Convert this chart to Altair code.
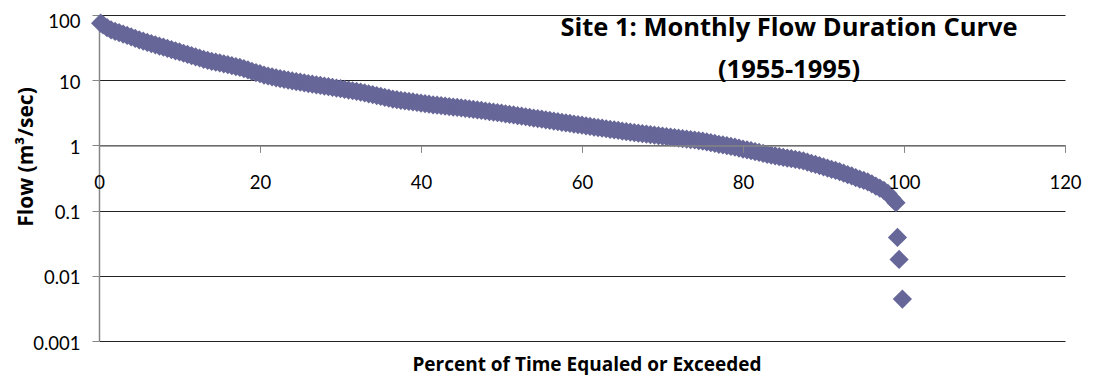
import altair as alt
import pandas as pd

# Exceedance percent (x) and monthly flow in m3/sec (y)
percent = [
    0.2, 0.5, 1.0, 1.5, 2.0, 2.5, 3.0, 3.5, 4.0, 4.5,
    5.0, 5.5, 6.0, 6.5, 7.0, 7.5, 8.0, 8.5, 9.0, 9.5,
    10.0, 10.5, 11.0, 11.5, 12.0, 12.5, 13.0, 13.5, 14.0, 14.5,
    15.0, 15.5, 16.0, 16.5, 17.0, 17.5, 18.0, 18.5, 19.0, 19.5,
    20.0, 20.5, 21.0, 21.5, 22.0, 22.5, 23.0, 23.5, 24.0, 24.5,
    25.0, 25.5, 26.0, 26.5, 27.0, 27.5, 28.0, 28.5, 29.0, 29.5,
    30.0, 30.5, 31.0, 31.5, 32.0, 32.5, 33.0, 33.5, 34.0, 34.5,
    35.0, 35.5, 36.0, 36.5, 37.0, 37.5, 38.0, 38.5, 39.0, 39.5,
    40.0, 40.5, 41.0, 41.5, 42.0, 42.5, 43.0, 43.5, 44.0, 44.5,
    45.0, 45.5, 46.0, 46.5, 47.0, 47.5, 48.0, 48.5, 49.0, 49.5,
    50.0, 50.5, 51.0, 51.5, 52.0, 52.5, 53.0, 53.5, 54.0, 54.5,
    55.0, 55.5, 56.0, 56.5, 57.0, 57.5, 58.0, 58.5, 59.0, 59.5,
    60.0, 60.5, 61.0, 61.5, 62.0, 62.5, 63.0, 63.5, 64.0, 64.5,
    65.0, 65.5, 66.0, 66.5, 67.0, 67.5, 68.0, 68.5, 69.0, 69.5,
    70.0, 70.5, 71.0, 71.5, 72.0, 72.5, 73.0, 73.5, 74.0, 74.5,
    75.0, 75.5, 76.0, 76.5, 77.0, 77.5, 78.0, 78.5, 79.0, 79.5,
    80.0, 80.5, 81.0, 81.5, 82.0, 82.5, 83.0, 83.5, 84.0, 84.5,
    85.0, 85.5, 86.0, 86.5, 87.0, 87.5, 88.0, 88.5, 89.0, 89.5,
    90.0, 90.5, 91.0, 91.5, 92.0, 92.5, 93.0, 93.5, 94.0, 94.5,
    95.0, 95.5, 96.0, 96.5, 97.0, 97.5, 98.0, 98.5, 99.0,
    99.19, 99.39, 99.8,
]
flow = [
    75.0, 70.6, 63.8, 58.9, 56.1, 53.6, 51.1, 48.5, 46.0, 43.7,
    41.5, 39.6, 38.0, 36.4, 34.9, 33.4, 32.1, 30.7, 29.5, 28.2,
    27.1, 25.9, 24.8, 23.8, 22.8, 21.9, 20.9, 20.2, 19.5, 19.0,
    18.4, 17.8, 17.3, 16.7, 16.2, 15.7, 15.0, 14.4, 13.7, 13.1,
    12.6, 12.0, 11.6, 11.2, 10.9, 10.6, 10.3, 10.0, 9.75, 9.53,
    9.31, 9.10, 8.89, 8.69, 8.49, 8.30, 8.11, 7.94, 7.76, 7.57,
    7.40, 7.23, 7.06, 6.89, 6.73, 6.57, 6.37, 6.18, 5.99, 5.81,
    5.64, 5.46, 5.30, 5.14, 5.02, 4.92, 4.83, 4.73, 4.64, 4.55,
    4.46, 4.37, 4.29, 4.20, 4.13, 4.07, 4.01, 3.94, 3.88, 3.82,
    3.77, 3.70, 3.63, 3.56, 3.50, 3.44, 3.37, 3.31, 3.24, 3.18,
    3.12, 3.05, 2.99, 2.93, 2.86, 2.81, 2.75, 2.69, 2.63, 2.58,
    2.52, 2.47, 2.41, 2.36, 2.31, 2.26, 2.21, 2.17, 2.12, 2.08,
    2.04, 2.00, 1.95, 1.91, 1.87, 1.84, 1.80, 1.76, 1.73, 1.70,
    1.66, 1.63, 1.60, 1.57, 1.54, 1.51, 1.49, 1.46, 1.44, 1.41,
    1.39, 1.36, 1.34, 1.32, 1.29, 1.27, 1.25, 1.23, 1.21, 1.18,
    1.16, 1.13, 1.10, 1.07, 1.04, 1.02, 0.99, 0.965, 0.94, 0.91,
    0.88, 0.855, 0.83, 0.80, 0.78, 0.755, 0.73, 0.71, 0.69, 0.67,
    0.655, 0.64, 0.625, 0.61, 0.595, 0.58, 0.555, 0.53, 0.51, 0.49,
    0.47, 0.45, 0.43, 0.415, 0.395, 0.375, 0.355, 0.34, 0.32, 0.305,
    0.29, 0.275, 0.258, 0.238, 0.221, 0.204, 0.183, 0.155, 0.132,
    0.0387, 0.0178, 0.0044,
]

x_ticks = [0, 20, 40, 60, 80, 100, 120]
y_ticks = [0.001, 0.01, 0.1, 1, 10, 100]
title_lines = ["Site 1: Monthly Flow Duration Curve", "(1955-1995)"]
x_title = "Percent of Time Equaled or Exceeded"
y_title = "Flow (m³/sec)"

df = pd.DataFrame({"percent": percent, "flow": flow})

LABEL_FONT = "Lato"
TITLE_FONT = "Open Sans"
W, H = 966, 326
AXIS_GRAY = "#868686"

x_scale = alt.Scale(domain=[0, 120], nice=False, zero=False)
y_scale = alt.Scale(type="log", domain=[0.001, 100], nice=False)

points = alt.Chart(df).mark_point(
    shape="diamond", filled=True, size=370, color="#666699", opacity=1, strokeWidth=0
).encode(
    x=alt.X(
        "percent:Q",
        scale=x_scale,
        axis=alt.Axis(
            values=x_ticks, grid=False, offset=-195.6, tickSize=7, labelPadding=21,
            labelFont=LABEL_FONT, labelFontSize=18.5, labelColor="#000000",
            domainColor=AXIS_GRAY, tickColor=AXIS_GRAY, domainWidth=1.5, tickWidth=1,
            title=None, zindex=1, labelFlush=False, labelOverlap=False,
        ),
    ),
    y=alt.Y(
        "flow:Q",
        scale=y_scale,
        axis=alt.Axis(
            values=y_ticks, format="~g", grid=True, gridColor="#222222", gridWidth=1,
            tickSize=7, labelPadding=12, labelFont=LABEL_FONT, labelFontSize=18.5,
            labelColor="#000000", domainColor=AXIS_GRAY, tickColor=AXIS_GRAY,
            domainWidth=1.5, title=None, labelOverlap=False, labelFlush=False,
            labelOffset={"condition": {"test": "datum.value >= 100", "value": 6}, "value": 2},
        ),
    ),
)

title_text = alt.Chart(pd.DataFrame({"t": ["\n".join(title_lines)]})).mark_text(
    font=TITLE_FONT, fontSize=25.5, fontWeight="bold", color="#000000", align="center",
    baseline="alphabetic", lineBreak="\n", lineHeight=42,
).encode(x=alt.value(690), y=alt.value(21), text="t:N")

x_title_text = alt.Chart(pd.DataFrame({"t": [x_title]})).mark_text(
    font=TITLE_FONT, fontSize=19, fontWeight="bold", color="#000000", align="center",
    baseline="alphabetic",
).encode(x=alt.value(488), y=alt.value(355.5), text="t:N")

y_title_text = alt.Chart(pd.DataFrame({"t": [y_title]})).mark_text(
    font=TITLE_FONT, fontSize=21, fontWeight="bold", color="#000000", align="center",
    baseline="alphabetic", angle=270,
).encode(x=alt.value(-66), y=alt.value(142), text="t:N")

chart = alt.layer(points, title_text, x_title_text, y_title_text).properties(
    width=W,
    height=H,
    padding={"left": 91, "top": 7, "right": 21, "bottom": 34},
    autosize=alt.AutoSizeParams(type="none"),
    background="white",
).configure_view(stroke=None)

chart.save("out.html", embed_options={"renderer": "svg", "actions": False})
